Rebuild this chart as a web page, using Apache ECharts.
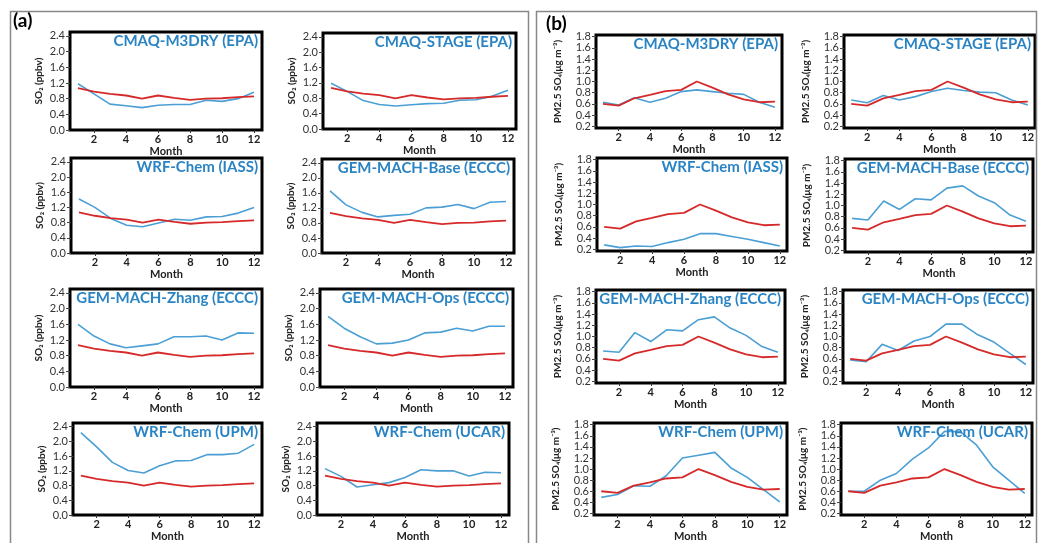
<!DOCTYPE html>
<html>
<head>
<meta charset="utf-8">
<title>Monthly SO2 and PM2.5 SO4</title>
<script src="https://cdn.jsdelivr.net/npm/echarts@6/dist/echarts.min.js"></script>
<style>
    html,body{margin:0;padding:0;background:#fff;}
    #chart{width:1040px;height:543px;}
</style>
</head>
<body>
<div id="chart"></div>
<script>
    // ---- data ----
    var months = [1,2,3,4,5,6,7,8,9,10,11,12];
    var monthTicks = [2,4,6,8,10,12];
    var so2Ticks = [0.0,0.4,0.8,1.2,1.6,2.0,2.4];
    var so4Ticks = [0.2,0.4,0.6,0.8,1.0,1.2,1.4,1.6,1.8];

    var modelNames = ["CMAQ-M3DRY (EPA)","CMAQ-STAGE (EPA)","WRF-Chem (IASS)","GEM-MACH-Base (ECCC)",
                      "GEM-MACH-Zhang (ECCC)","GEM-MACH-Ops (ECCC)","WRF-Chem (UPM)","WRF-Chem (UCAR)"];

    // (a) SO2, ppbv
    var so2Obs   = [1.07,0.98,0.92,0.88,0.80,0.88,0.82,0.77,0.80,0.81,0.84,0.86];
    var so2M3dry = [1.18,0.92,0.66,0.62,0.57,0.63,0.65,0.65,0.76,0.73,0.80,0.96];
    var so2Stage = [1.19,0.98,0.74,0.64,0.60,0.63,0.66,0.67,0.75,0.76,0.85,1.01];
    var so2Iass  = [1.42,1.20,0.91,0.73,0.69,0.79,0.89,0.86,0.95,0.96,1.05,1.20];
    var so2Base  = [1.65,1.28,1.08,0.96,1.00,1.03,1.20,1.22,1.29,1.18,1.35,1.37];
    var so2Zhang = [1.60,1.30,1.10,1.00,1.05,1.10,1.28,1.28,1.30,1.20,1.38,1.37];
    var so2Ops   = [1.80,1.50,1.28,1.10,1.12,1.20,1.38,1.40,1.50,1.43,1.55,1.55];
    var so2Upm   = [2.24,1.85,1.43,1.21,1.14,1.34,1.47,1.48,1.64,1.64,1.68,1.92];
    var so2Ucar  = [1.26,1.05,0.76,0.82,0.88,1.02,1.23,1.20,1.20,1.06,1.16,1.15];

    // (b) PM2.5 SO4, ug m-3
    var so4Obs   = [0.60,0.57,0.70,0.76,0.83,0.85,1.00,0.89,0.77,0.68,0.63,0.64];
    var so4M3dry = [0.63,0.58,0.71,0.63,0.70,0.82,0.85,0.82,0.79,0.77,0.63,0.54];
    var so4Stage = [0.67,0.62,0.75,0.67,0.73,0.82,0.88,0.84,0.81,0.80,0.67,0.58];
    var so4Iass  = [0.28,0.23,0.26,0.25,0.32,0.38,0.48,0.48,0.43,0.38,0.32,0.26];
    var so4Base  = [0.77,0.74,1.08,0.93,1.12,1.10,1.31,1.35,1.17,1.05,0.83,0.72];
    var so4Zhang = [0.74,0.72,1.07,0.91,1.12,1.10,1.30,1.35,1.15,1.02,0.82,0.72];
    var so4Ops   = [0.58,0.55,0.86,0.75,0.92,1.00,1.22,1.22,1.03,0.90,0.70,0.50];
    var so4Upm   = [0.49,0.54,0.70,0.69,0.88,1.20,1.25,1.30,1.02,0.85,0.63,0.41];
    var so4Ucar  = [0.60,0.60,0.80,0.92,1.18,1.38,1.68,1.67,1.43,1.04,0.80,0.56];

    var so2Models = [so2M3dry,so2Stage,so2Iass,so2Base,so2Zhang,so2Ops,so2Upm,so2Ucar];
    var so4Models = [so4M3dry,so4Stage,so4Iass,so4Base,so4Zhang,so4Ops,so4Upm,so4Ucar];

    // ---- layout: frame boxes [left, top, right, bottom] ----
    var aRects = [[70,32,262,130],[323,33,516,129],
                  [71,158,262,253],[322,159,514,253],
                  [70,289,262,387],[320,289,513,387],
                  [73,423,262,518],[317,423,509,518]];
    var bRects = [[596,35,782,128],[844,35,1035,128],
                  [597,158,787,251],[845,159,1033,252],
                  [596,290,785,383],[843,290,1033,383],
                  [594,423,787,516],[841,423,1032,516]];

    var BLUE = '#4b9fd5', RED = '#d62a2a', TITLE = '#2a84c3';
    var FONT = 'Lato';

    function pairs(vals){
        return months.map(function(m,i){ return [m, vals[i]]; });
    }

    var grids=[], xAxes=[], yAxes=[], series=[], graphics=[];

    function addPanel(rect, name, model, obs, isA){
        var idx = grids.length;
        grids.push({
            left: rect[0], top: rect[1], width: rect[2]-rect[0], height: rect[3]-rect[1],
            show: true, borderColor: '#000', borderWidth: 3, backgroundColor: '#fff'
        });
        xAxes.push({
            type: 'value', gridIndex: idx,
            min: isA ? 0.5 : 0.55, max: isA ? 12.5 : 12.45,
            axisLine: {show: false},
            splitLine: {show: false},
            axisTick: {show: true, length: 3, customValues: monthTicks, lineStyle: {color: '#333'}},
            axisLabel: {customValues: monthTicks, color: '#222', fontFamily: FONT, fontWeight: 'bold', fontSize: 11, margin: 4},
            name: 'Month', nameLocation: 'middle', nameGap: isA ? 16 : 15,
            nameTextStyle: {color: '#222', fontFamily: FONT, fontWeight: 'bold', fontSize: 11}
        });
        yAxes.push({
            type: 'value', gridIndex: idx,
            min: isA ? 0 : 0.17, max: isA ? 2.5 : 1.83,
            axisLine: {show: false},
            splitLine: {show: false},
            axisTick: {show: true, length: 4, customValues: isA ? so2Ticks : so4Ticks, lineStyle: {color: '#444'}},
            axisLabel: {customValues: isA ? so2Ticks : so4Ticks, color: '#333', fontFamily: FONT, fontSize: 11, margin: 5,
                showMinLabel: true, showMaxLabel: true,
                formatter: function(v){ return v.toFixed(1); }},
            name: isA ? 'SO\u2082 (ppbv)' : 'PM2.5 SO\u2084(\u03bcg m\u207b\u00b3)',
            nameLocation: 'middle', nameRotate: 90, nameGap: isA ? 26 : 33,
            nameTextStyle: {color: '#222', fontFamily: FONT, fontWeight: 'bold', fontSize: 10}
        });
        series.push({
            type: 'line', xAxisIndex: idx, yAxisIndex: idx, data: pairs(model),
            showSymbol: false, silent: true, lineStyle: {color: BLUE, width: 1.6}, z: 3
        });
        series.push({
            type: 'line', xAxisIndex: idx, yAxisIndex: idx, data: pairs(obs),
            showSymbol: false, silent: true, lineStyle: {color: RED, width: 1.8}, z: 4
        });
        graphics.push({
            type: 'text', right: 1040 - rect[2] + 4, top: rect[1] + 2, z: 10,
            style: {text: name, fill: TITLE, font: 'bold 15px ' + FONT}
        });
    }

    for (var i=0;i<8;i++){
        addPanel(aRects[i], modelNames[i], so2Models[i], so2Obs, true);
    }
    for (var j=0;j<8;j++){
        addPanel(bRects[j], modelNames[j], so4Models[j], so4Obs, false);
    }

    // outer boxes and panel letters
    graphics.push({type:'rect', shape:{x:10.5,y:11.5,width:518,height:540}, style:{fill:'none', stroke:'#888', lineWidth:1.5}, z:0});
    graphics.push({type:'rect', shape:{x:536.5,y:11.5,width:500,height:540}, style:{fill:'none', stroke:'#888', lineWidth:1.5}, z:0});
    graphics.push({type:'text', left:13, top:11, style:{text:'(a)', fill:'#000', font:'bold 19px ' + FONT}});
    graphics.push({type:'text', left:546, top:14, style:{text:'(b)', fill:'#000', font:'bold 19px ' + FONT}});

    var myChart = echarts.init(document.getElementById('chart'), null, {renderer: 'canvas'});
    myChart.setOption({
        animation: false,
        backgroundColor: '#fff',
        grid: grids,
        xAxis: xAxes,
        yAxis: yAxes,
        series: series,
        graphic: graphics
    });
</script>
</body>
</html>
